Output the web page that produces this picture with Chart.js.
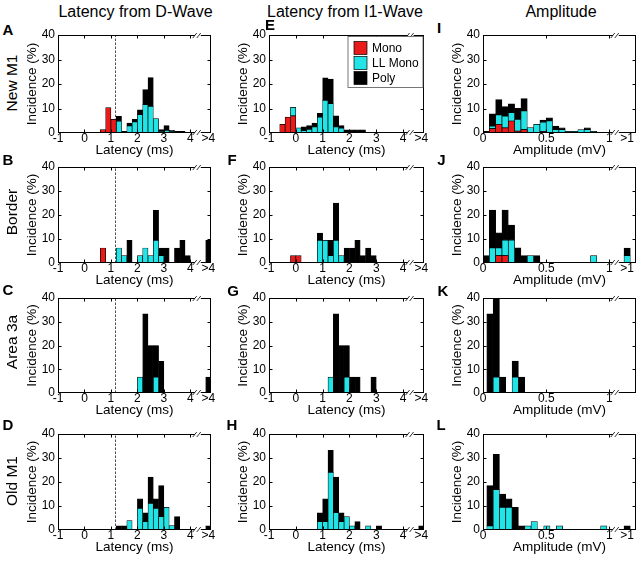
<!DOCTYPE html>
<html>
<head>
<meta charset="utf-8">
<script src="https://cdn.jsdelivr.net/npm/chart.js@4.4.1/dist/chart.umd.min.js"></script>
<style>
  html, body { margin: 0; padding: 0; background: #fff; }
  body { position: relative; width: 640px; height: 561px; overflow: hidden;
         font-family: Arial, "Liberation Sans", Helvetica, sans-serif; color: #000; }
  canvas { position: absolute; }
  .t { position: absolute; white-space: nowrap; line-height: 1; transform: translate(-50%, -50%); }
  .t.r { transform: translate(-50%, -50%) rotate(-90deg); }
</style>
</head>
<body>
<script>
// ---- data (incidence %, stacked: Mono / LL Mono / Poly) ----
const seriesNames = ['Mono', 'LL Mono', 'Poly'];
const seriesColors = ['#e81a1a', '#22e4e6', '#000000'];

// latency bin centres (ms), last bin is ">4"
const latencyBins = [-0.9,-0.7,-0.5,-0.3,-0.1,0.1,0.3,0.5,0.7,0.9,1.1,1.3,1.5,1.7,1.9,2.1,2.3,2.5,2.7,2.9,3.1,3.3,3.5,3.7,3.9,4.68];
const latencyTicks = [-1, 0, 1, 2, 3, 4, 4.68];
const latencyTickLabels = ['-1', '0', '1', '2', '3', '4', '>4'];

// amplitude bin centres (mV), last bin is ">1"
const ampBinsIJ = [0.025,0.075,0.125,0.175,0.225,0.275,0.325,0.375,0.425,0.475,0.525,0.575,0.625,0.675,0.725,0.775,0.825,0.875,0.925,0.975,1.14];
const ampBinsKL = [0.055,0.105,0.155,0.205,0.255,0.305,0.355,0.405,0.455,0.505,0.555,0.605,0.655,0.705,0.755,0.805,0.855,0.905,0.955,1.14];
const ampTicks = [0, 0.5, 1, 1.14];
const ampTickLabels = ['0', '0.5', '1', '>1'];

const dWaveMarker = 1.15; // dashed line, latency from D-wave column

// D-wave latency
const monoA = [0,0,0,0,0,0,0,0,1.4,10.4,5.6,0,0,0,0,0,0,0,0,0,0,0,0,0,0,0];
const llA   = [0,0,0,0,0,0,0,0,0,0,0,4.8,0,2.9,4.5,7.5,11.6,10.9,5.9,0.7,1.1,0.7,0,0,0,0];
const polyA = [0,0,0,0,0,0,0,0,0,0,0,2.0,0.7,1.2,1.1,2.0,6.1,11.7,0,0.7,1.9,0.4,0.7,0.7,0,0];

const monoB = [0,0,0,0,0,0,0,0,6.25,0,0,0,0,0,0,0,0,0,0,0,0,0,0,0,0,0];
const llB   = [0,0,0,0,0,0,0,0,0,0,0,6.25,3.1,0,0,3.1,6.25,3.1,9.4,3.1,0,0,0,0,0,0];
const polyB = [0,0,0,0,0,0,0,0,0,0,0,0,0,9.4,0,0,0,0,12.5,3.15,6.25,0,6.25,9.4,3.1,9.4];

const monoC = [0,0,0,0,0,0,0,0,0,0,0,0,0,0,0,0,0,0,0,0,0,0,0,0,0,0];
const llC   = [0,0,0,0,0,0,0,0,0,0,0,0,0,0,0,6.7,0,0,6.7,0,0,0,0,0,0,0];
const polyC = [0,0,0,0,0,0,0,0,0,0,0,0,0,0,0,0,33.3,20,13.3,13.3,0,0,0,0,0,6.7];

const monoD = [0,0,0,0,0,0,0,0,0,0,0,0,0,0,0,0,0,0,0,0,0,0,0,0,0,0];
const llD   = [0,0,0,0,0,0,0,0,0,0,0,0,0,3.9,0,9,3.5,11.1,9,5.6,9.4,1.8,0,0,0,0];
const polyD = [0,0,0,0,0,0,0,0,0,0,0,1.7,1.7,0,0,4,3.7,10.9,4,12.9,0,0,5.6,0,0,1.7];

// I1-wave latency
const monoE = [0,0,3.5,6.5,7,0,0,0,0,0,0,0,0,0,0,0,0,0,0,0,0,0,0,0,0,0];
const llE   = [0,0,0,0,3.5,2.1,1,1.5,2.5,6.5,13.3,12,2.5,2,0.5,0,0,0,0,0,0,0,0,0,0,0];
const polyE = [0,0,0,0,0,0,1.5,1.5,1.5,1.5,9.2,10,4.5,1,0.8,1.3,1.3,1.3,0,0,0,0,0,0,0,0];

const monoF = [0,0,0,0,3.1,3.1,0,0,0,0,0,0,0,0,0,0,0,0,0,0,0,0,0,0,0,0];
const llF   = [0,0,0,0,0,0,0,0,0,9.4,9.4,3.1,9.4,3.1,0,0,0,0,0,0,0,0,0,0,0,0];
const polyF = [0,0,0,0,0,0,0,0,0,3.1,0,6.3,15.6,0,6.25,6.25,9.4,3.1,6.25,3.1,0,0,0,0,0,0];

const monoG = [0,0,0,0,0,0,0,0,0,0,0,0,0,0,0,0,0,0,0,0,0,0,0,0,0,0];
const llG   = [0,0,0,0,0,0,0,0,0,0,0,6.7,0,0,6.7,0,0,0,0,0,0,0,0,0,0,0];
const polyG = [0,0,0,0,0,0,0,0,0,0,0,0,33.3,20,13.3,6.7,6.7,0,0,6.7,0,0,0,0,0,0];

const monoH = [0,0,0,0,0,0,0,0,0,0,0,0,0,0,0,0,0,0,0,0,0,0,0,0,0,0];
const llH   = [0,0,0,0,0,0,0,0,0,3.5,3.5,24,7.2,3.5,5.6,1.7,0,0,1.7,0,0,0,0,0,0,0];
const polyH = [0,0,0,0,0,0,0,0,0,3.7,9.5,9.2,14.8,3.7,0,0,3.5,0,0,0,1.7,0,0,0,0,1.7];

// amplitude
const monoI = [0,1.8,3.5,2.1,4.9,0.8,1.4,0,0,0.7,0,0,0,0,0,0,0,0,0,0,0];
const llI   = [0,1.0,3.9,4.8,3.4,4.8,7.6,2.2,3.5,3.7,4.9,1.4,1.4,0.7,0.7,1.4,1.4,0.7,0,0,0];
const polyI = [0.7,5.0,6.2,3.9,3.6,4.5,5.0,0,0,0.9,1.3,1.4,0.7,0,0,0,0.7,0,0,0,0];

const monoJ = [0,0,3.1,3.1,0,0,0,0,0,0,0,0,0,0,0,0,0,0,0,0,0];
const llJ   = [0,6.3,3.2,6.4,9.5,0,0,3.1,0,0,0,0,0,0,0,0,0,3.1,0,0,3.1];
const polyJ = [3.1,15.7,6.3,12.5,6.3,6.3,3.1,0,3.1,0,0,0,0,0,0,0,0,0,0,0,3.1];

const monoK = [0,0,0,0,0,0,0,0,0,0,0,0,0,0,0,0,0,0,0,0];
const llK   = [0,6.7,0,0,6.7,0,0,0,0,0,0,0,0,0,0,0,0,0,0,0];
const polyK = [33.3,33.3,6.7,0,6.7,6.7,0,0,0,0,0,0,0,0,0,0,0,0,0,0];

const monoL = [0,0,0,0,0,0,0,0,0,0,0,0,0,0,0,0,0,0,0,0];
const llL   = [1.7,16.8,9.4,9.4,0,0,1.7,3.5,0,1.7,0,1.7,0,0,0,0,0,0,1.7,0];
const polyL = [16.8,14.7,5.6,3.6,9.4,1.7,0,0,0,0,0,0,0,0,0,0,0,0,0,1.7];

// ---- layout ----
const FONT = 'Arial, "Liberation Sans", Helvetica, sans-serif';
Chart.defaults.font.family = FONT;
Chart.defaults.color = '#000';

const colLeft = [58, 269, 483], colRight = [211, 424, 636];
const rowTop = [35, 167, 298, 434], rowBottom = [133, 263, 393, 530];
const Y_W = 34, X_H = 27, PAD_T = 8, PAD_R = 12, PAD_B = 3;

const axes = {
  lat:  { bins: latencyBins, min: -1, max: 4.78, ticks: latencyTicks, labels: latencyTickLabels,
          inner: [0, 1, 2, 3, 4], brk: 4.28, title: 'Latency (ms)' },
  amp:  { bins: ampBinsIJ, min: 0, max: 1.21, ticks: ampTicks, labels: ampTickLabels,
          inner: [0.5, 1], brk: 1.05, title: 'Amplitude (mV)' },
  ampK: { bins: ampBinsKL, min: 0, max: 1.21, ticks: ampTicks.slice(0, 3), labels: ampTickLabels.slice(0, 3),
          inner: [0.5, 1], brk: 1.05, title: 'Amplitude (mV)' },
  ampL: { bins: ampBinsKL, min: 0, max: 1.21, ticks: ampTicks, labels: ampTickLabels,
          inner: [0.5, 1], brk: 1.05, title: 'Amplitude (mV)' }
};

const panels = [
  { letter: 'A', col: 0, row: 0, axis: 'lat', data: [monoA, llA, polyA], dash: true },
  { letter: 'B', col: 0, row: 1, axis: 'lat', data: [monoB, llB, polyB], dash: true },
  { letter: 'C', col: 0, row: 2, axis: 'lat', data: [monoC, llC, polyC], dash: true },
  { letter: 'D', col: 0, row: 3, axis: 'lat', data: [monoD, llD, polyD], dash: true },
  { letter: 'E', col: 1, row: 0, axis: 'lat', data: [monoE, llE, polyE], legend: true },
  { letter: 'F', col: 1, row: 1, axis: 'lat', data: [monoF, llF, polyF] },
  { letter: 'G', col: 1, row: 2, axis: 'lat', data: [monoG, llG, polyG] },
  { letter: 'H', col: 1, row: 3, axis: 'lat', data: [monoH, llH, polyH] },
  { letter: 'I', col: 2, row: 0, axis: 'amp', data: [monoI, llI, polyI] },
  { letter: 'J', col: 2, row: 1, axis: 'amp', data: [monoJ, llJ, polyJ] },
  { letter: 'K', col: 2, row: 2, axis: 'ampK', data: [monoK, llK, polyK] },
  { letter: 'L', col: 2, row: 3, axis: 'ampL', data: [monoL, llL, polyL] }
];

function line(ctx, x1, y1, x2, y2) {
  ctx.beginPath(); ctx.moveTo(x1, y1); ctx.lineTo(x2, y2); ctx.stroke();
}

// box, inward ticks, axis break, dashed marker and legend
const frame = {
  id: 'frame',
  beforeDatasetsDraw(chart, args, o) {
    if (o.dash == null) return;
    const { top, bottom } = chart.chartArea;
    const ctx = chart.ctx;
    const px = Math.round(chart.scales.x.getPixelForValue(o.dash)) + 0.5;
    ctx.save();
    ctx.strokeStyle = '#222';
    ctx.lineWidth = 0.8;
    ctx.setLineDash([2.5, 1.5]);
    line(ctx, px, bottom, px, top);
    ctx.restore();
  },
  afterDraw(chart, args, o) {
    const ctx = chart.ctx;
    const { left, right, top, bottom } = chart.chartArea;
    const xs = chart.scales.x, ys = chart.scales.y;
    const l = Math.round(left) + 0.5, r = Math.round(right) - 0.5;
    const t = Math.round(top) + 0.5, b = Math.round(bottom) - 0.5;
    ctx.save();
    ctx.strokeStyle = '#000';
    ctx.lineWidth = 1;
    ctx.strokeRect(l, t, r - l, b - t);
    o.inner.forEach(v => {
      const px = Math.round(xs.getPixelForValue(v)) + 0.5;
      line(ctx, px, b, px, b - 3);
      line(ctx, px, t, px, t + 3);
    });
    [10, 20, 30].forEach(v => {
      const py = Math.round(ys.getPixelForValue(v)) + 0.5;
      line(ctx, l, py, l + 3, py);
      line(ctx, r, py, r - 3, py);
    });
    // axis break
    const bx = xs.getPixelForValue(o.brk);
    ctx.fillStyle = '#fff';
    [b, t].forEach(y => {
      ctx.fillRect(bx - 3, y - 2, 6, 4);
      ctx.lineWidth = 0.8;
      line(ctx, bx - 5, y + 2.5, bx - 1, y - 2.5);
      line(ctx, bx - 1, y + 2.5, bx + 3, y - 2.5);
    });
    if (o.legend) {
      const bw = 75, bh = 51;
      const x0 = r - bw - 0.5, y0 = t + 1;
      ctx.fillStyle = '#fff';
      ctx.fillRect(x0, y0, bw, bh);
      ctx.strokeStyle = '#555';
      ctx.lineWidth = 0.8;
      ctx.strokeRect(x0, y0, bw, bh);
      ctx.font = '12px ' + FONT;
      ctx.textBaseline = 'middle';
      chart.data.datasets.forEach((ds, i) => {
        const sy = y0 + 5 + i * 15;
        ctx.fillStyle = ds.backgroundColor;
        ctx.fillRect(x0 + 6, sy, 13, 13);
        ctx.strokeStyle = '#000';
        ctx.lineWidth = 0.7;
        ctx.strokeRect(x0 + 6, sy, 13, 13);
        ctx.fillStyle = '#000';
        ctx.fillText(ds.label, x0 + 24, sy + 7);
      });
    }
    ctx.restore();
  }
};

function makePanel(p) {
  const ax = axes[p.axis];
  const L = colLeft[p.col], R = colRight[p.col], T = rowTop[p.row], B = rowBottom[p.row];
  const w = Y_W + (R - L) + PAD_R, h = PAD_T + (B - T) + X_H + PAD_B;
  const cv = document.createElement('canvas');
  cv.width = w; cv.height = h;
  cv.style.width = w + 'px'; cv.style.height = h + 'px';
  cv.style.left = (L - Y_W) + 'px'; cv.style.top = (T - PAD_T) + 'px';
  document.body.appendChild(cv);

  const datasets = p.data.map((vals, k) => ({
    label: seriesNames[k],
    data: ax.bins.map((x, i) => ({ x: x, y: vals[i] || null })),
    backgroundColor: seriesColors[k],
    borderColor: '#000',
    borderWidth: 0.7,
    borderSkipped: false,
    barPercentage: 1,
    categoryPercentage: 1
  }));

  new Chart(cv, {
    type: 'bar',
    data: { datasets: datasets },
    options: {
      responsive: false,
      animation: false,
      devicePixelRatio: 1,
      layout: { autoPadding: false, padding: { top: PAD_T, right: PAD_R, bottom: PAD_B, left: 0 } },
      plugins: {
        legend: { display: false },
        tooltip: { enabled: false },
        frame: { dash: p.dash ? dWaveMarker : null, inner: ax.inner, brk: ax.brk, legend: !!p.legend }
      },
      scales: {
        x: {
          type: 'linear', min: ax.min, max: ax.max, stacked: true, offset: false,
          grid: { display: false, drawTicks: false },
          border: { display: false },
          afterBuildTicks: s => { s.ticks = ax.ticks.map(v => ({ value: v })); },
          afterFit: s => { s.height = X_H; s.paddingLeft = 0; s.paddingRight = 0; },
          ticks: { autoSkip: false, maxRotation: 0, minRotation: 0, padding: -2,
                   font: { size: 12 }, callback: (v, i) => ax.labels[i] },
          title: { display: true, text: ax.title, font: { size: 13.5 }, padding: { top: 0, bottom: 2 } }
        },
        y: {
          min: 0, max: 40, stacked: true,
          grid: { display: false, drawTicks: false },
          border: { display: false },
          afterFit: s => { s.width = Y_W; s.paddingTop = 0; s.paddingBottom = 0; },
          ticks: { stepSize: 10, padding: 3, font: { size: 12 } },
          title: { display: true, text: 'Incidence (%)', font: { size: 13.5 }, padding: { top: 0, bottom: 0 } }
        }
      }
    },
    plugins: [frame]
  });
}

panels.forEach(makePanel);

// ---- text outside the axes ----
function addText(txt, cx, cy, size, bold, rot) {
  const d = document.createElement('div');
  d.className = 't' + (rot ? ' r' : '');
  d.textContent = txt;
  d.style.left = cx + 'px';
  d.style.top = cy + 'px';
  d.style.fontSize = size + 'px';
  if (bold) d.style.fontWeight = 'bold';
  document.body.appendChild(d);
}

addText('Latency from D-Wave', 135.5, 12, 16);
addText('Latency from I1-Wave', 345, 12, 16);
addText('Amplitude', 561, 12, 16);

addText('New M1', 12, 83, 15.5, false, true);
addText('Border', 12, 212, 15.5, false, true);
addText('Area 3a', 12, 342, 15.5, false, true);
addText('Old M1', 12, 481, 15.5, false, true);

const letterPos = [
  ['A', 8, 29], ['B', 8, 158.5], ['C', 8, 289], ['D', 8, 424],
  ['E', 270, 24], ['F', 232, 159], ['G', 233, 290], ['H', 232, 424],
  ['I', 439, 27], ['J', 441.5, 159], ['K', 443, 290], ['L', 441, 424]
];
letterPos.forEach(([s, x, y]) => addText(s, x, y, 15, true));
</script>
</body>
</html>
